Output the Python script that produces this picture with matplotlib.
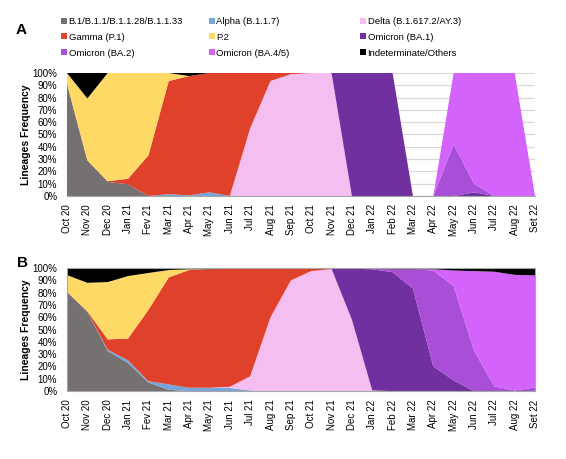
import matplotlib
matplotlib.use('Agg')
import matplotlib.pyplot as plt
from matplotlib.patches import Patch

plt.rcParams['font.family'] = ['Liberation Sans', 'DejaVu Sans']

months = ['Oct 20', 'Nov 20', 'Dec 20', 'Jan 21', 'Fev 21', 'Mar 21', 'Apr 21', 'May 21',
          'Jun 21', 'Jul 21', 'Aug 21', 'Sep 21', 'Oct 21', 'Nov 21', 'Dec 21', 'Jan 22',
          'Feb 22', 'Mar 22', 'Apr 22', 'May 22', 'Jun 22', 'Jul 22', 'Aug 22', 'Set 22']

lineages = ['B.1/B.1.1/B.1.1.28/B.1.1.33', 'Alpha (B.1.1.7)', 'Delta (B.1.617.2/AY.3)',
            'Gamma (P.1)', 'P.2', 'Omicron (BA.1)', 'Omicron (BA.2)', 'Omicron (BA.4/5)',
            'Indeterminate/Others']
colors = ['#767171', '#76A5DC', '#F4BEF0', '#E0412B', '#FFD966', '#7030A0', '#A94ED6',
          '#D463FC', '#000000']

# panel A (%)
a_b1 = [91, 29, 11.5, 9.5, 0, 0, 0, 0, 0, 0, 0, 0, 0, 0, 0, 0, 0, 0, 0, 0, 0, 0, 0, 0]
a_alpha = [0, 0, 0, 0, 0, 1.5, 0.5, 3, 0, 0, 0, 0, 0, 0, 0, 0, 0, 0, 0, 0, 0, 0, 0, 0]
a_delta = [0, 0, 0, 0, 0, 0, 0, 0, 0, 55, 93.5, 99, 100, 100, 0, 0, 0, 0, 0, 0, 0, 0, 0, 0]
a_gamma = [0, 0, 0.5, 4.5, 33, 92, 97, 97, 100, 45, 6.5, 1, 0, 0, 0, 0, 0, 0, 0, 0, 0, 0, 0, 0]
a_p2 = [9, 50.3, 88, 86, 67, 6.5, 0, 0, 0, 0, 0, 0, 0, 0, 0, 0, 0, 0, 0, 0, 0, 0, 0, 0]
a_ba1 = [0, 0, 0, 0, 0, 0, 0, 0, 0, 0, 0, 0, 0, 0, 100, 100, 100, 0, 0, 0, 3, 0, 0, 0]
a_ba2 = [0, 0, 0, 0, 0, 0, 0, 0, 0, 0, 0, 0, 0, 0, 0, 0, 0, 0, 0, 42, 7, 0, 0, 0]
a_ba45 = [0, 0, 0, 0, 0, 0, 0, 0, 0, 0, 0, 0, 0, 0, 0, 0, 0, 0, 0, 58, 90, 100, 100, 0]
a_indet = [0, 20.7, 0, 0, 0, 0, 2.5, 0, 0, 0, 0, 0, 0, 0, 0, 0, 0, 0, 0, 0, 0, 0, 0, 0]

# panel B (%)
b_b1 = [80.7, 64.4, 32.6, 22.8, 7, 1, 0, 0, 0, 0, 0, 0, 0, 0, 0, 0, 0, 0, 0, 0, 0, 0, 0, 0]
b_alpha = [0, 0, 1, 2.2, 1, 4.4, 2.7, 2.7, 2.5, 0.5, 0, 0, 0, 0, 0, 0, 0, 0, 0, 0, 0, 0, 0, 0]
b_delta = [0, 0, 0, 0, 0, 0, 0, 0, 1, 11.5, 60, 90, 97.5, 99.2, 58, 0.5, 0, 0, 0, 0, 0, 0, 0, 0]
b_gamma = [0, 0.5, 8.4, 17.7, 58, 87, 95.7, 96.3, 95.9, 87.5, 39.5, 9.5, 2, 0.3, 0, 0, 0, 0, 0, 0, 0, 0, 0, 0]
b_p2 = [13.6, 23.1, 46.6, 50.8, 30, 6, 0.6, 0, 0, 0, 0, 0, 0, 0, 0, 0, 0, 0, 0, 0, 0, 0, 0, 0]
b_ba1 = [0, 0, 0, 0, 0, 0, 0, 0, 0, 0, 0, 0, 0, 0.3, 41.5, 98.5, 96.7, 83.4, 20, 8.7, 0, 0, 0, 0]
b_ba2 = [0, 0, 0, 0, 0, 0, 0, 0, 0, 0, 0, 0, 0, 0, 0, 0.5, 2.3, 15.6, 78, 76.6, 33, 3.8, 0.5, 3]
b_ba45 = [0, 0, 0, 0, 0, 0, 0, 0, 0, 0, 0, 0, 0, 0, 0, 0, 0, 0, 1, 12.7, 64.5, 93.2, 94, 91]
b_indet = [5.7, 12, 11.4, 6.5, 4, 1.6, 1, 1, 0.6, 0.5, 0.5, 0.5, 0.5, 0.2, 0.5, 0.5, 1, 1, 1, 2, 2.5, 3, 5.5, 6]

panel_a = [a_b1, a_alpha, a_delta, a_gamma, a_p2, a_ba1, a_ba2, a_ba45, a_indet]
panel_b = [b_b1, b_alpha, b_delta, b_gamma, b_p2, b_ba1, b_ba2, b_ba45, b_indet]

fig = plt.figure(figsize=(5.66, 4.59), dpi=100)
ax_a = fig.add_axes([0.1184, 0.573, 0.8269, 0.268])
ax_b = fig.add_axes([0.1184, 0.148, 0.8269, 0.268])

x = list(range(len(months)))
for ax, data in ((ax_a, panel_a), (ax_b, panel_b)):
    ax.stackplot(x, *data, colors=colors, linewidth=0, zorder=2)
    ax.set_xlim(0, len(months) - 1)
    ax.set_ylim(0, 100)
    ax.set_yticks(range(0, 101, 10))
    ax.set_yticklabels(['%d%%' % v for v in range(0, 101, 10)], fontsize=7)
    ax.set_xticks(x)
    ax.set_xticklabels(months, rotation=90, fontsize=7)
    ax.tick_params(axis='y', length=0, pad=7)
    ax.tick_params(axis='x', length=0, pad=6)
    ax.grid(True, axis='y', color='#D9D9D9', linewidth=0.9, zorder=0)
    ax.set_axisbelow(True)
    ax.set_ylabel('Lineages Frequency', fontsize=7.5, fontweight='bold', labelpad=1)

for s in ('top', 'right', 'left'):
    ax_a.spines[s].set_visible(False)
ax_a.spines['bottom'].set_color('#A6A6A6')
for s in ax_b.spines.values():
    s.set_color('#A6A6A6')

fig.text(0.027, 0.935, 'A', fontsize=11, fontweight='bold', va='center')
fig.text(0.030, 0.427, 'B', fontsize=11, fontweight='bold', va='center')

# legend, three columns laid out row by row
col_x = [0.108, 0.369, 0.636]
for c in range(3):
    idx = [c, c + 3, c + 6]
    handles = [Patch(facecolor=colors[i], edgecolor='none') for i in idx]
    fig.legend(handles, [lineages[i] for i in idx], loc='upper left',
               bbox_to_anchor=(col_x[c], 0.963), frameon=False, fontsize=6.8,
               handlelength=0.6, handleheight=0.6, handletextpad=0.2,
               labelspacing=0.72, borderpad=0, borderaxespad=0)

fig.savefig('out.png', dpi=100)
